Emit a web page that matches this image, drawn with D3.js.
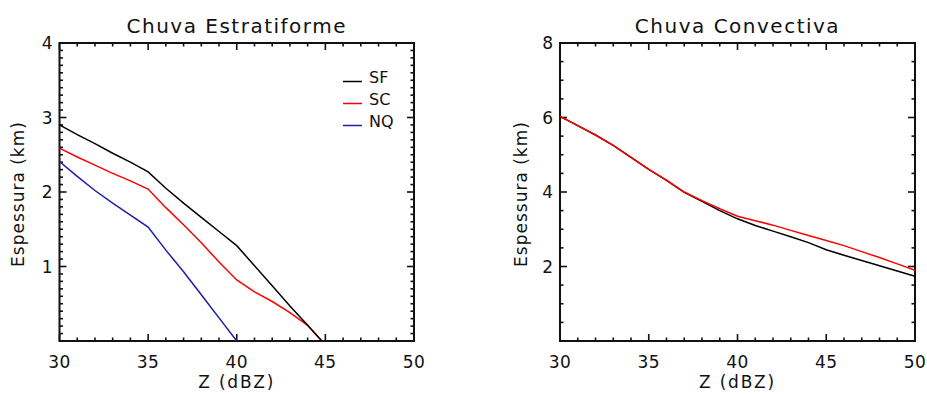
<!DOCTYPE html>
<html>
<head>
<meta charset="utf-8">
<script src="https://cdn.jsdelivr.net/npm/d3@7"></script>
<style>
  body { margin: 0; background: #fff; }
  svg text { font-family: "DejaVu Sans", sans-serif; fill: #111; }
</style>
</head>
<body>
<svg id="chart" width="927" height="394"></svg>
<script>
// estratiforme panel
var zEstrat  = [30, 31, 32, 33, 34, 35, 36, 37, 38, 39, 40, 41, 42, 43, 44, 44.8];
var sfEstrat = [2.90, 2.77, 2.65, 2.52, 2.40, 2.27, 2.05, 1.85, 1.66, 1.47, 1.28, 1.01, 0.74, 0.47, 0.21, 0.0];
var scEstrat = [2.59, 2.47, 2.36, 2.25, 2.15, 2.04, 1.79, 1.56, 1.32, 1.06, 0.82, 0.66, 0.53, 0.38, 0.21, 0.0];
var zNQ      = [30, 31, 32, 33, 34, 35, 36, 37, 38, 39, 40];
var nqEstrat = [2.41, 2.21, 2.02, 1.85, 1.69, 1.53, 1.22, 0.93, 0.62, 0.31, 0.0];

// convectiva panel
var zConv  = [30, 31, 32, 33, 34, 35, 36, 37, 38, 39, 40, 41, 42, 43, 44, 45, 46, 47, 48, 49, 50];
var sfConv = [6.03, 5.78, 5.53, 5.25, 4.93, 4.61, 4.31, 3.99, 3.75, 3.50, 3.28, 3.10, 2.95, 2.80, 2.64, 2.45, 2.30, 2.16, 2.02, 1.88, 1.74];
var scConv = [6.03, 5.78, 5.53, 5.25, 4.93, 4.61, 4.32, 4.00, 3.77, 3.55, 3.35, 3.23, 3.11, 2.97, 2.83, 2.70, 2.56, 2.40, 2.24, 2.07, 1.90];

var xTicks = [30, 35, 40, 45, 50];
var yTicksEstrat = [1, 2, 3, 4];
var yTicksConv = [2, 4, 6, 8];
var legendNames = ["SF", "SC", "NQ"];
var legendColors = ["#000000", "#ff0000", "#1c1cab"];

var svg = d3.select("#chart");

function panel(opt) {
    var left = opt.left, right = opt.right, top = 43, bottom = 341;
    var x = d3.scaleLinear().domain([30, 50]).range([left, right]);
    var y = d3.scaleLinear().domain([0, opt.yMax]).range([bottom, top]);
    var g = svg.append("g");

    // minor + major ticks on all four sides, pointing in
    var xMinor = d3.range(30, 50.001, 1);
    var yMinor = d3.range(0, opt.yMax + 0.001, opt.yMinorStep);
    var tk = g.append("g").attr("stroke", "#111").attr("stroke-width", 1.6);
    xMinor.forEach(function (v) {
        var len = xTicks.indexOf(v) >= 0 ? 7 : 3.5;
        tk.append("line").attr("x1", x(v)).attr("x2", x(v)).attr("y1", bottom).attr("y2", bottom - len);
        tk.append("line").attr("x1", x(v)).attr("x2", x(v)).attr("y1", top).attr("y2", top + len);
    });
    yMinor.forEach(function (v) {
        var major = opt.yTicks.some(function (t) { return Math.abs(t - v) < 1e-6; });
        var len = major ? 7 : 3.5;
        tk.append("line").attr("x1", left).attr("x2", left + len).attr("y1", y(v)).attr("y2", y(v));
        tk.append("line").attr("x1", right).attr("x2", right - len).attr("y1", y(v)).attr("y2", y(v));
    });

    // frame
    g.append("rect")
        .attr("x", left).attr("y", top)
        .attr("width", right - left).attr("height", bottom - top)
        .attr("fill", "none").attr("stroke", "#111").attr("stroke-width", 2);

    // tick labels
    g.selectAll(".xl").data(xTicks).enter().append("text")
        .attr("x", function (d) { return x(d); })
        .attr("y", 368)
        .attr("text-anchor", "middle")
        .style("font-size", "17px")
        .style("letter-spacing", "0.5px")
        .text(function (d) { return d; });
    g.selectAll(".yl").data(opt.yTicks).enter().append("text")
        .attr("x", left - 7)
        .attr("y", function (d) { return y(d) + 6; })
        .attr("text-anchor", "end")
        .style("font-size", "17px")
        .text(function (d) { return d; });

    // titles
    g.append("text")
        .attr("x", (left + right) / 2).attr("y", 33)
        .attr("text-anchor", "middle")
        .style("font-size", "20px")
        .style("letter-spacing", "1.5px")
        .text(opt.title);
    g.append("text")
        .attr("x", (left + right) / 2).attr("y", 388)
        .attr("text-anchor", "middle")
        .style("font-size", "17px")
        .style("letter-spacing", "1.8px")
        .text("Z (dBZ)");
    g.append("text")
        .attr("transform", "translate(" + (opt.yLabelX) + "," + ((top + bottom) / 2 + 2) + ") rotate(-90)")
        .attr("text-anchor", "middle")
        .style("font-size", "17px")
        .style("letter-spacing", "1px")
        .text("Espessura (km)");

    var line = d3.line()
        .x(function (d) { return x(d[0]); })
        .y(function (d) { return y(d[1]); });

    opt.series.forEach(function (s) {
        g.append("path")
            .datum(d3.zip(s.z, s.v))
            .attr("d", line)
            .attr("fill", "none")
            .attr("stroke", s.color)
            .attr("stroke-width", 1.5);
    });
    return g;
}

var gl = panel({
    left: 59.5, right: 414, yMax: 4, yMinorStep: 0.1, yTicks: yTicksEstrat,
    yLabelX: 24, title: "Chuva Estratiforme",
    series: [
        { z: zNQ, v: nqEstrat, color: legendColors[2] },
        { z: zEstrat, v: scEstrat, color: legendColors[1] },
        { z: zEstrat, v: sfEstrat, color: legendColors[0] }
    ]
});

panel({
    left: 560, right: 915, yMax: 8, yMinorStep: 0.5, yTicks: yTicksConv,
    yLabelX: 527, title: "Chuva Convectiva",
    series: [
        { z: zConv, v: sfConv, color: legendColors[0] },
        { z: zConv, v: scConv, color: legendColors[1] }
    ]
});

// legend in left panel
var leg = gl.append("g");
legendNames.forEach(function (name, i) {
    var yy = 81.5 + i * 22;
    leg.append("line")
        .attr("x1", 343).attr("x2", 362)
        .attr("y1", yy).attr("y2", yy)
        .attr("stroke", legendColors[i]).attr("stroke-width", 1.5);
    leg.append("text")
        .attr("x", 369).attr("y", yy + 1)
        .style("font-size", "16px")
        .text(name);
});
</script>
</body>
</html>
